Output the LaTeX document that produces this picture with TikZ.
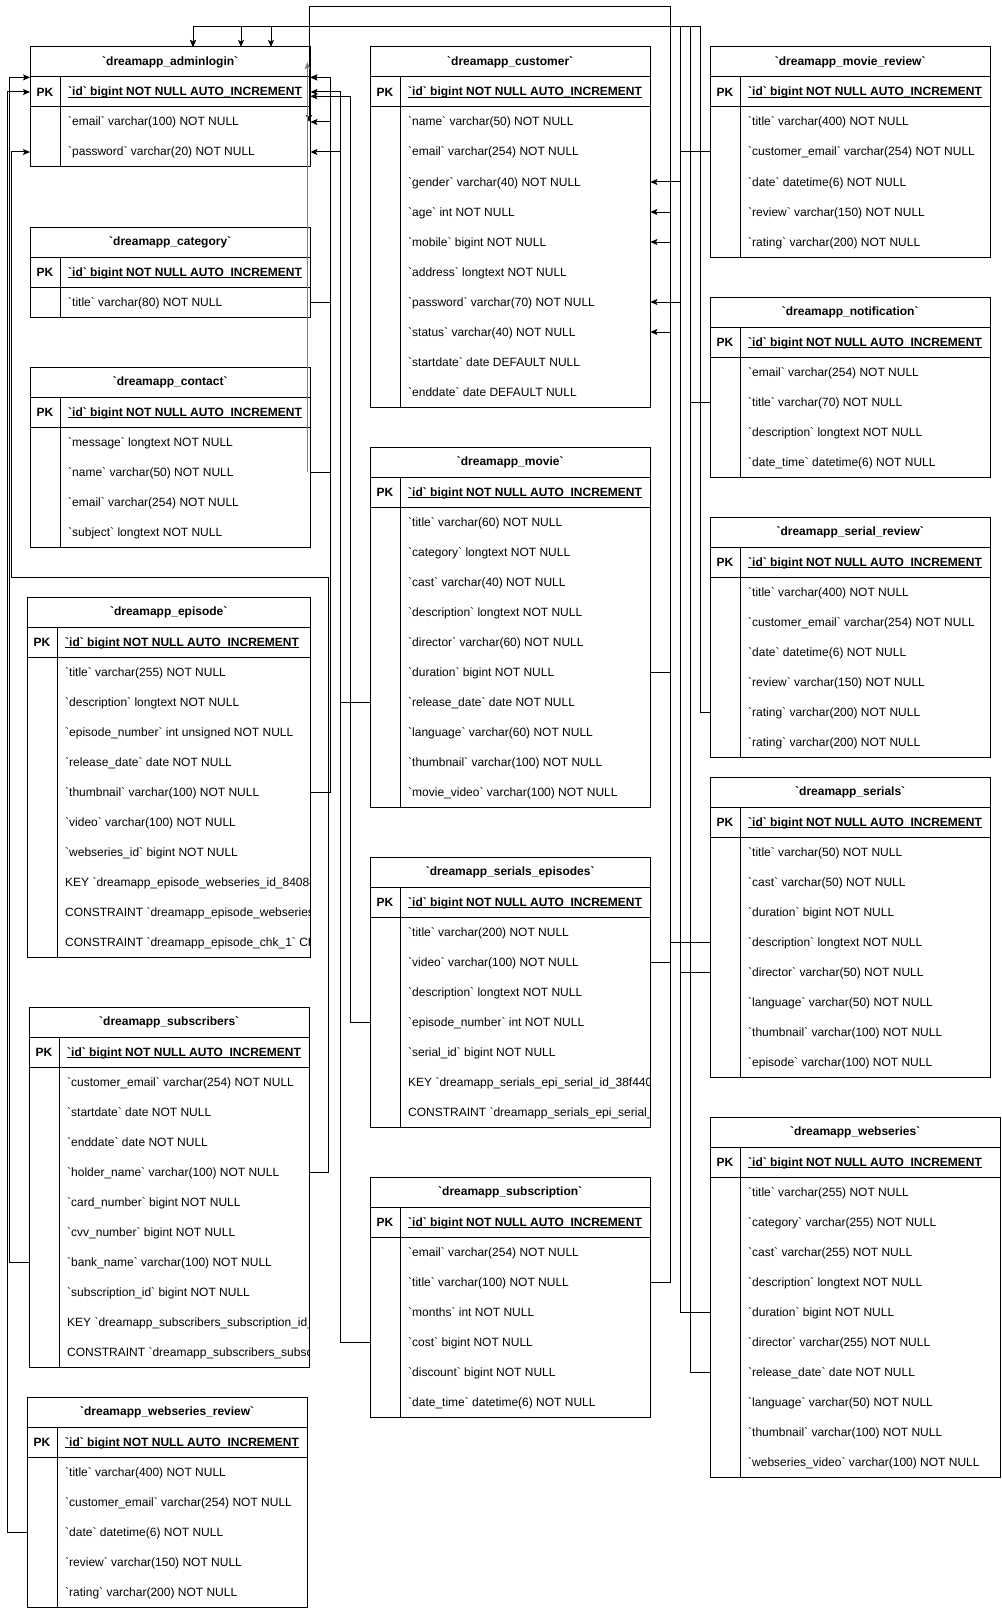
\documentclass[tikz,border=0pt]{standalone}
\usepackage{fontspec}
\newfontfamily\erfont{Liberation Sans}[Ligatures=TeXOff]
\usetikzlibrary{arrows.meta}
\newcommand{\tblfont}{\erfont\fontsize{12pt}{14pt}\selectfont}
\newcommand{\pkul}[1]{\setbox0\hbox{#1}\rlap{\rule[-2pt]{\wd0}{0.8pt}}\box0}
\tikzset{
	tblline/.style={line width=1pt},
	tblhead/.style={anchor=north west, minimum height=30, inner sep=0pt, font=\tblfont\bfseries},
	pkcell/.style={inner sep=0pt, font=\tblfont\bfseries},
	fld/.style={anchor=west, inner sep=0pt, text height=10pt, text depth=2pt, font=\tblfont},
	fk/.style={line width=1pt, -{Stealth[length=7pt, width=6pt, inset=1.5pt]}},
	fkgray/.style={fk, draw=black!50, fill=black!50},
}
% #1 name, #2 left, #3 top, #4 width, #5 number of fields, #6 title, #7 fields
\newcommand{\ertable}[7]{%
	\node[tblhead, minimum width=#4] (#1) at (#2,#3) {#6};
	\node[pkcell] (#1-pk) at (#2+15,#3+45) {PK};
	\node[fld, font=\tblfont\bfseries] (#1-id) at (#2+38,#3+45) {\pkul{`id` bigint NOT NULL AUTO\_INCREMENT}};
	\begin{scope}
		\clip (#2,#3) rectangle ++(#4,60+30*#5);
		\foreach \f [count=\i] in {#7}
			\node[fld] (#1-\i) at (#2+38,#3+45+30*\i) {\f};
	\end{scope}
	\draw[tblline] (#2,#3) rectangle ++(#4,60+30*#5);
	\draw[tblline] (#2,#3+30) -- ++(#4,0) (#2,#3+60) -- ++(#4,0);
	\draw[tblline] (#2+30,#3+30) -- ++(0,30+30*#5);
}

\begin{document}
\begin{tikzpicture}[x=1pt, y=-1pt]
	\useasboundingbox (0,0) rectangle (1001,1608);
	% left column
	\ertable{adminlogin}{30}{47}{280}{2}{`dreamapp\_adminlogin`}{`email` varchar(100) NOT NULL, `password` varchar(20) NOT NULL}
	\ertable{category}{30}{227}{280}{1}{`dreamapp\_category`}{`title` varchar(80) NOT NULL}
	\ertable{contact}{30}{367}{280}{4}{`dreamapp\_contact`}{`message` longtext NOT NULL, `name` varchar(50) NOT NULL, `email` varchar(254) NOT NULL, `subject` longtext NOT NULL}
	\ertable{episode}{27}{597}{283}{10}{`dreamapp\_episode`}{`title` varchar(255) NOT NULL, `description` longtext NOT NULL, `episode\_number` int unsigned NOT NULL, `release\_date` date NOT NULL, `thumbnail` varchar(100) NOT NULL, `video` varchar(100) NOT NULL, `webseries\_id` bigint NOT NULL, KEY `dreamapp\_episode\_webseries\_id\_84084, CONSTRAINT `dreamapp\_episode\_webseries\_, CONSTRAINT `dreamapp\_episode\_chk\_1` CH}
	\ertable{subscribers}{29}{1007}{280}{10}{`dreamapp\_subscribers`}{`customer\_email` varchar(254) NOT NULL, `startdate` date NOT NULL, `enddate` date NOT NULL, `holder\_name` varchar(100) NOT NULL, `card\_number` bigint NOT NULL, `cvv\_number` bigint NOT NULL, `bank\_name` varchar(100) NOT NULL, `subscription\_id` bigint NOT NULL, KEY `dreamapp\_subscribers\_subscription\_id\_, CONSTRAINT `dreamapp\_subscribers\_subsc}
	\ertable{wsreview}{27}{1397}{280}{5}{`dreamapp\_webseries\_review`}{`title` varchar(400) NOT NULL, `customer\_email` varchar(254) NOT NULL, `date` datetime(6) NOT NULL, `review` varchar(150) NOT NULL, `rating` varchar(200) NOT NULL}
	% middle column
	\ertable{customer}{370}{47}{280}{10}{`dreamapp\_customer`}{`name` varchar(50) NOT NULL, `email` varchar(254) NOT NULL, `gender` varchar(40) NOT NULL, `age` int NOT NULL, `mobile` bigint NOT NULL, `address` longtext NOT NULL, `password` varchar(70) NOT NULL, `status` varchar(40) NOT NULL, `startdate` date DEFAULT NULL, `enddate` date DEFAULT NULL}
	\ertable{movie}{370}{447}{280}{10}{`dreamapp\_movie`}{`title` varchar(60) NOT NULL, `category` longtext NOT NULL, `cast` varchar(40) NOT NULL, `description` longtext NOT NULL, `director` varchar(60) NOT NULL, `duration` bigint NOT NULL, `release\_date` date NOT NULL, `language` varchar(60) NOT NULL, `thumbnail` varchar(100) NOT NULL, `movie\_video` varchar(100) NOT NULL}
	\ertable{serialsep}{370}{857}{280}{7}{`dreamapp\_serials\_episodes`}{`title` varchar(200) NOT NULL, `video` varchar(100) NOT NULL, `description` longtext NOT NULL, `episode\_number` int NOT NULL, `serial\_id` bigint NOT NULL, KEY `dreamapp\_serials\_epi\_serial\_id\_38f440, CONSTRAINT `dreamapp\_serials\_epi\_serial\_}
	\ertable{subscription}{370}{1177}{280}{6}{`dreamapp\_subscription`}{`email` varchar(254) NOT NULL, `title` varchar(100) NOT NULL, `months` int NOT NULL, `cost` bigint NOT NULL, `discount` bigint NOT NULL, `date\_time` datetime(6) NOT NULL}
	% right column
	\ertable{moviereview}{710}{47}{280}{5}{`dreamapp\_movie\_review`}{`title` varchar(400) NOT NULL, `customer\_email` varchar(254) NOT NULL, `date` datetime(6) NOT NULL, `review` varchar(150) NOT NULL, `rating` varchar(200) NOT NULL}
	\ertable{notification}{710}{297}{280}{4}{`dreamapp\_notification`}{`email` varchar(254) NOT NULL, `title` varchar(70) NOT NULL, `description` longtext NOT NULL, `date\_time` datetime(6) NOT NULL}
	\ertable{serialreview}{710}{517}{280}{6}{`dreamapp\_serial\_review`}{`title` varchar(400) NOT NULL, `customer\_email` varchar(254) NOT NULL, `date` datetime(6) NOT NULL, `review` varchar(150) NOT NULL, `rating` varchar(200) NOT NULL, `rating` varchar(200) NOT NULL}
	\ertable{serials}{710}{777}{280}{8}{`dreamapp\_serials`}{`title` varchar(50) NOT NULL, `cast` varchar(50) NOT NULL, `duration` bigint NOT NULL, `description` longtext NOT NULL, `director` varchar(50) NOT NULL, `language` varchar(50) NOT NULL, `thumbnail` varchar(100) NOT NULL, `episode` varchar(100) NOT NULL}
	\ertable{webseries}{710}{1117}{290}{10}{`dreamapp\_webseries`}{`title` varchar(255) NOT NULL, `category` varchar(255) NOT NULL, `cast` varchar(255) NOT NULL, `description` longtext NOT NULL, `duration` bigint NOT NULL, `director` varchar(255) NOT NULL, `release\_date` date NOT NULL, `language` varchar(50) NOT NULL, `thumbnail` varchar(100) NOT NULL, `webseries\_video` varchar(100) NOT NULL}
	% bus points above and left of adminlogin
	\coordinate (bus-top) at (309,7);
	\coordinate (drop-a) at (193,27);
	\coordinate (drop-b) at (241,27);
	\coordinate (drop-c) at (271,27);
	\coordinate (bus-left) at (11,577);
	% into customer, channel right of middle column
	\draw[fk] (movie.east |- movie-6) -- ++(20,0) |- (customer.east |- customer-4);
	\draw[fk] (serialsep.east |- serialsep-2) -- ++(20,0) |- (customer.east |- customer-5);
	\draw[fk] (serials.west |- serials-4) -- ++(-40,0) |- (customer.east |- customer-8);
	\draw[fk] (moviereview.west |- moviereview-2) -- ++(-30,0) |- (customer.east |- customer-3);
	\draw[fk] (webseries.west |- webseries-5) -- ++(-30,0) |- (customer.east |- customer-7);
	% over the top into adminlogin
	\draw[fk] (subscription.east |- subscription-2) -- ++(20,0) |- (bus-top) -- (bus-top |- adminlogin-1);
	\draw[fk] (serials.west |- serials-5) -- ++(-30,0) |- (drop-c) -- (drop-c |- adminlogin.north);
	\draw[fk] (notification.west |- notification-2) -- ++(-20,0) |- (drop-b) -- (drop-b |- adminlogin.north);
	\draw[fk] (webseries.west |- webseries-7) -- ++(-20,0) |- (drop-a) -- (drop-a |- adminlogin.north);
	\draw[fk] (serialreview.west |- serialreview-5) -- ++(-10,0) |- (drop-a) -- (drop-a |- adminlogin.north);
	% channels right of left column
	\draw[fk] (category.east |- category-1) -- ++(20,0) |- (adminlogin.south east);
	\draw[fk] (contact.east |- contact-2) -- ++(20,0) |- (adminlogin.east |- adminlogin-1);
	\draw[fk] (episode.east |- episode-5) -- ++(20,0) |- (adminlogin.south east);
	\draw[fk] (movie.west |- movie-7) -- ++(-30,0) |- (adminlogin.east |- adminlogin-id);
	\draw[fk] (subscription.west |- subscription-4) -- ++(-30,0) |- (adminlogin.east |- adminlogin-2);
	\draw[fk] (serialsep.west |- serialsep-4) -- ++(-20,0) |- (adminlogin.east |- adminlogin-pk.south);
	\draw[fkgray] (contact.east |- contact-2) ++(-3,0) -- ([xshift=-3pt]adminlogin.east);
	% channels left of left column
	\draw[fk] (subscribers.east |- subscribers-4) -- ++(19,0) |- (bus-left) |- (adminlogin.west |- adminlogin-2);
	\draw[fk] (subscribers.west |- subscribers-7) -- ++(-20,0) |- (adminlogin.south west);
	\draw[fk] (wsreview.west |- wsreview-3) -- ++(-20,0) |- (adminlogin.west |- adminlogin-id);
\end{tikzpicture}
\end{document}
